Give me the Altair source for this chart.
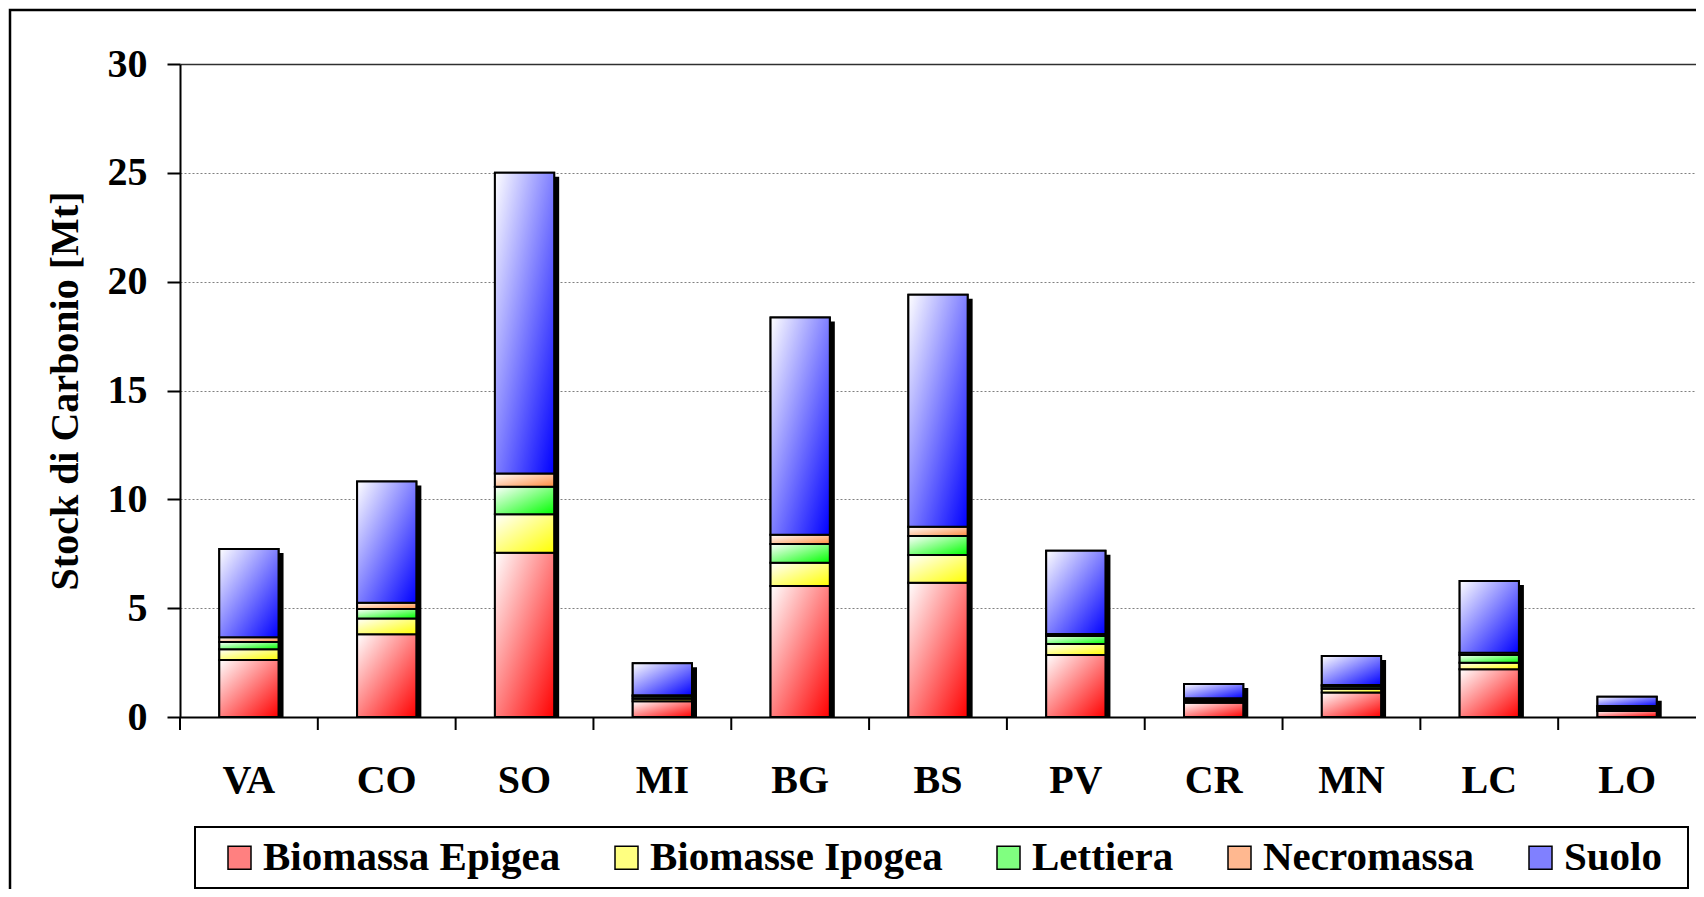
import altair as alt
import pandas as pd

cats = ["VA", "CO", "SO", "MI", "BG", "BS", "PV", "CR", "MN", "LC", "LO"]
series = ["Biomassa Epigea", "Biomasse Ipogea", "Lettiera", "Necromassa", "Suolo"]
epigea = [2.62, 3.80, 7.55, 0.72, 6.02, 6.17, 2.85, 0.66, 1.13, 2.19, 0.28]
ipogea = [0.49, 0.73, 1.77, 0.12, 1.07, 1.27, 0.50, 0.08, 0.17, 0.30, 0.08]
lettiera = [0.33, 0.43, 1.26, 0.10, 0.86, 0.87, 0.37, 0.07, 0.10, 0.36, 0.08]
necromassa = [0.22, 0.29, 0.61, 0.06, 0.42, 0.43, 0.09, 0.05, 0.07, 0.10, 0.06]
suolo = [4.06, 5.57, 13.81, 1.47, 9.98, 10.66, 3.83, 0.66, 1.33, 3.30, 0.43]
y_ticks = [0, 5, 10, 15, 20, 25, 30]

full_colors = ["#ff0000", "#ffff00", "#00ff00", "#ff8c40", "#0000ff"]
flat_colors = ["#ff8080", "#ffff80", "#80ff80", "#ffb890", "#8080ff"]

values = [epigea, ipogea, lettiera, necromassa, suolo]
rows = []
for si, (s, vals) in enumerate(zip(series, values)):
    for c, v in zip(cats, vals):
        rows.append({"cat": c, "series": s, "idx": si, "value": v})
df = pd.DataFrame(rows)
cat_df = pd.DataFrame({"cat": cats})

W, H = 1516, 653
PAD_IN = 0.57
STEP = W / len(cats)
FONT = "Liberation Serif"


def grad(col):
    return {
        "gradient": "linear",
        "x1": 0, "y1": 0, "x2": 1, "y2": 1,
        "stops": [{"offset": 0, "color": "#ffffff"}, {"offset": 1, "color": col}],
    }


fill_enc = {
    "condition": [
        {"test": f"datum.series === '{s}'", "value": grad(c)}
        for s, c in zip(series[:-1], full_colors[:-1])
    ],
    "value": grad(full_colors[-1]),
}

x_scale = alt.Scale(paddingInner=PAD_IN, paddingOuter=PAD_IN / 2)
x_enc = alt.X(
    "cat:N", sort=cats, title=None, scale=x_scale,
    axis=alt.Axis(
        labelAngle=0, ticks=True, tickSize=13, tickOpacity=0,
        labelFont=FONT, labelFontSize=40,
        labelFontWeight="bold", labelColor="black", labelPadding=30,
        domainColor="black", domainWidth=2, grid=False,
    ),
)

y_scale = alt.Scale(domain=[0, 30], nice=False)
y_axis = alt.Axis(
    values=y_ticks, title="Stock di Carbonio [Mt]", titleFont=FONT,
    titleFontSize=40, titleFontWeight="bold", titleColor="black", titlePadding=22,
    labelFont=FONT, labelFontSize=40, labelFontWeight="bold", labelColor="black",
    labelPadding=20, tickSize=13, tickWidth=2, tickColor="black",
    domainColor="black", domainWidth=2,
    grid=True,
    gridDash={"condition": {"test": "datum.value === 30", "value": []}, "value": [2, 2]},
    gridColor={"condition": {"test": "datum.value === 30", "value": "#303030"}, "value": "#808080"},
    gridWidth={"condition": {"test": "datum.value === 30", "value": 1.5}, "value": 1},
)

one = pd.DataFrame({"a": [0]})

# outer chart frame
border = alt.Chart(one).mark_rect(
    filled=False, stroke="black", strokeWidth=2.5
).encode(
    x=alt.value(-170), x2=alt.value(W + 60),
    y=alt.value(-54), y2=alt.value(H + 300),
)

# legend frame
legend_box = alt.Chart(one).mark_rect(
    fill="white", stroke="black", strokeWidth=2
).encode(
    x=alt.value(15), x2=alt.value(1508),
    y=alt.value(763), y2=alt.value(824),
)

# category separator ticks below the x axis (at step boundaries)
xticks = alt.Chart(cat_df).mark_rule(
    color="black", strokeWidth=2, xOffset=-STEP / 2
).encode(
    x=x_enc,
    y=alt.value(H), y2=alt.value(H + 13),
)

shadow = alt.Chart(df).mark_bar(color="black", xOffset=5, yOffset=4).encode(
    x=x_enc,
    y=alt.Y("sum(value):Q", scale=y_scale, axis=y_axis),
)

# flat-coloured stack that carries the legend (covered by the gradient stack)
flat = alt.Chart(df).mark_bar(stroke="black", strokeWidth=2).encode(
    x=x_enc,
    y=alt.Y("value:Q", stack="zero", scale=y_scale, axis=y_axis),
    color=alt.Color(
        "series:N",
        scale=alt.Scale(domain=series, range=flat_colors),
        sort=series,
        legend=alt.Legend(
            title=None, orient="none", legendX=15, legendY=763,
            direction="horizontal", columns=5, padding=10,
            symbolType="square", symbolSize=529, symbolStrokeColor="black",
            symbolStrokeWidth=1.5, symbolOffset=14, labelOffset=3,
            columnPadding=31, labelLimit=600,
            labelFont=FONT, labelFontSize=41, labelFontWeight="bold",
            labelColor="black", symbolOpacity=1,
        ),
    ),
    order=alt.Order("idx:Q", sort="ascending"),
)

bars = alt.Chart(df).mark_bar(stroke="black", strokeWidth=2).encode(
    x=x_enc,
    y=alt.Y("value:Q", stack="zero", scale=y_scale, axis=y_axis),
    fill=fill_enc,
    order=alt.Order("idx:Q", sort="ascending"),
    detail="series:N",
)

chart = alt.layer(border, legend_box, shadow, flat, bars, xticks).properties(
    width=W, height=H,
    autosize=alt.AutoSizeParams(type="none"),
    padding={"left": 172, "top": 56, "right": 0, "bottom": 172},
    background="white",
).configure_view(stroke="transparent")

chart.save("out.html", embed_options={"renderer": "svg", "actions": False})
